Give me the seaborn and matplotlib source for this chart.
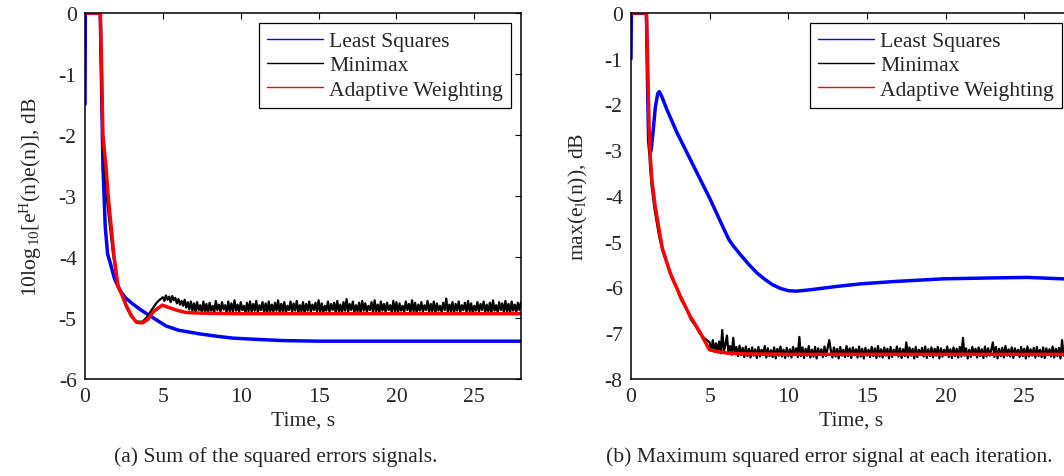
import numpy as np
import pandas as pd
import matplotlib
matplotlib.use("Agg")
import matplotlib.pyplot as plt
import seaborn as sns

# -----------------------------
# DATA
# -----------------------------
series_names = ["Least Squares", "Minimax", "Adaptive Weighting"]
series_colors = ["#0000ff", "#000000", "#ff0000"]

# (a) sum of squared errors
a_ls_t = [0, 0.02, 0.98, 1.05, 1.15, 1.3, 1.45, 1.6, 1.9, 2.3, 2.6, 3.07, 3.6, 4.15, 4.7,
          5.2, 6.0, 7.35, 8.5, 9.5, 11, 12.7, 15, 20, 28]
a_ls_v = [-1.5, 0, 0, -1.0, -2.5, -3.5, -3.95, -4.08, -4.36, -4.57, -4.67, -4.77, -4.87, -4.96, -5.05,
          -5.13, -5.2, -5.26, -5.3, -5.33, -5.35, -5.37, -5.38, -5.38, -5.38]

a_aw_t = [0, 0.98, 1.05, 1.15, 1.34, 1.49, 1.87, 2.13, 2.34, 2.66, 2.98, 3.3, 3.7, 4.05, 4.37, 4.96,
          5.3, 5.64, 6.0, 6.5, 7.35, 10, 28]
a_aw_v = [0, 0, -0.7, -2.0, -2.5, -3.0, -4.0, -4.49, -4.6, -4.8, -4.96, -5.07, -5.08, -5.02, -4.9, -4.79,
          -4.82, -4.85, -4.88, -4.91, -4.92, -4.93, -4.93]

a_mm_t = [0, 0.98, 1.02, 1.1, 1.2, 1.39, 1.6, 1.8, 2.1, 2.35, 2.65, 2.95, 3.3, 3.7, 4.0, 4.3, 4.6, 4.8]
a_mm_v = [0, 0, -0.7, -1.8, -2.4, -3.0, -3.5, -3.95, -4.45, -4.62, -4.82, -4.97, -5.06, -5.06, -4.98,
          -4.86, -4.75, -4.70]
# noisy steady part of Minimax, sampled every 0.1 s from t = 5.0
a_mm_noise_t0 = 5.0
a_mm_noise_dt = 0.1
a_mm_noise = [
    -4.66, -4.72, -4.63, -4.70, -4.65, -4.74, -4.64, -4.71, -4.67, -4.76,
    -4.69, -4.78, -4.72, -4.80, -4.70, -4.83, -4.74, -4.86, -4.73, -4.88,
    -4.76, -4.90, -4.74, -4.87, -4.79, -4.91, -4.73, -4.89, -4.77, -4.92,
    -4.75, -4.88, -4.80, -4.91, -4.72, -4.87, -4.78, -4.90, -4.74, -4.86,
    -4.79, -4.92, -4.73, -4.89, -4.76, -4.90, -4.71, -4.88, -4.78, -4.91,
    -4.74, -4.87, -4.80, -4.92, -4.75, -4.89, -4.73, -4.90, -4.77, -4.88,
    -4.72, -4.91, -4.79, -4.87, -4.74, -4.90, -4.76, -4.92, -4.73, -4.89,
    -4.78, -4.90, -4.75, -4.88, -4.71, -4.91, -4.77, -4.89, -4.74, -4.92,
    -4.80, -4.87, -4.73, -4.90, -4.76, -4.88, -4.72, -4.91, -4.79, -4.89,
    -4.74, -4.92, -4.77, -4.88, -4.73, -4.90, -4.78, -4.87, -4.75, -4.91,
    -4.71, -4.89, -4.76, -4.92, -4.80, -4.88, -4.73, -4.90, -4.77, -4.87,
    -4.75, -4.91, -4.72, -4.89, -4.78, -4.92, -4.74, -4.88, -4.69, -4.90,
    -4.77, -4.87, -4.73, -4.91, -4.79, -4.89, -4.75, -4.92, -4.72, -4.88,
    -4.76, -4.90, -4.80, -4.87, -4.74, -4.91, -4.71, -4.89, -4.78, -4.92,
    -4.73, -4.88, -4.77, -4.90, -4.75, -4.87, -4.79, -4.91, -4.72, -4.89,
    -4.74, -4.92, -4.76, -4.88, -4.80, -4.90, -4.73, -4.87, -4.77, -4.91,
    -4.71, -4.89, -4.75, -4.92, -4.78, -4.88, -4.74, -4.90, -4.79, -4.87,
    -4.72, -4.91, -4.77, -4.89, -4.73, -4.92, -4.76, -4.88, -4.80, -4.90,
    -4.75, -4.87, -4.68, -4.91, -4.78, -4.89, -4.74, -4.92, -4.77, -4.88,
    -4.73, -4.90, -4.79, -4.87, -4.75, -4.91, -4.72, -4.89, -4.76, -4.92,
    -4.80, -4.88, -4.74, -4.90, -4.77, -4.87, -4.73, -4.91, -4.78, -4.89,
    -4.75, -4.92, -4.71, -4.88, -4.79, -4.90, -4.74, -4.87, -4.76, -4.91,
    -4.72, -4.89, -4.77, -4.92, -4.73, -4.88, -4.78, -4.90, -4.75, -4.87,
    -4.74,
]

# (b) maximum squared error
b_ls_t = [0, 0.02, 0.98, 1.05, 1.12, 1.2, 1.28, 1.4, 1.55, 1.7, 1.8, 1.95, 2.27, 2.9, 3.97, 5.03,
          6.2, 6.5, 7.0, 7.5, 8.0, 8.5, 9.0, 9.5, 10.0, 10.5, 11.4, 13.0, 14.6, 16.7, 19.9, 23.1,
          25.2, 27.4, 28]
b_ls_v = [-1.0, 0, 0, -1.5, -2.8, -3.08, -3.0, -2.6, -2.05, -1.76, -1.72, -1.82, -2.1, -2.6, -3.34, -4.07,
          -4.94, -5.09, -5.3, -5.5, -5.68, -5.82, -5.94, -6.02, -6.07, -6.08, -6.05, -5.98, -5.92, -5.87,
          -5.81, -5.79, -5.78, -5.81, -5.82]

b_aw_t = [0, 0.98, 1.05, 1.15, 1.22, 1.32, 1.53, 1.84, 2.0, 2.48, 3.12, 3.75, 4.39, 4.98, 5.5, 6.08,
          7.1, 10, 28]
b_aw_v = [0, 0, -1.0, -2.5, -3.1, -3.63, -4.21, -4.85, -5.15, -5.67, -6.18, -6.62, -6.98, -7.36, -7.40,
          -7.43, -7.45, -7.46, -7.46]

b_mm_t = [0, 0.98, 1.04, 1.12, 1.2, 1.3, 1.5, 1.8, 2.0, 2.3, 2.6, 2.9, 3.2, 3.5, 3.8, 4.1, 4.4, 4.7]
b_mm_v = [0, 0, -1.2, -2.6, -3.3, -3.75, -4.3, -4.9, -5.2, -5.48, -5.8, -6.02, -6.28, -6.44, -6.7,
          -6.84, -7.02, -7.12]
b_mm_noise_t0 = 5.0
b_mm_noise_dt = 0.1
b_mm_noise = [
    -7.20, -7.38, -7.15, -7.40, -7.22, -7.42, -7.18, -7.44, -6.93, -7.40,
    -7.25, -7.05, -7.45, -7.28, -7.47, -7.10, -7.46, -7.30, -7.50, -7.27,
    -7.48, -7.32, -7.52, -7.29, -7.50, -7.34, -7.53, -7.31, -7.49, -7.35,
    -7.54, -7.30, -7.51, -7.36, -7.48, -7.28, -7.53, -7.33, -7.50, -7.37,
    -7.52, -7.31, -7.55, -7.34, -7.49, -7.29, -7.51, -7.36, -7.54, -7.32,
    -7.50, -7.35, -7.53, -7.30, -7.48, -7.33, -7.52, -7.08, -7.50, -7.31,
    -7.54, -7.34, -7.49, -7.28, -7.53, -7.36, -7.51, -7.30, -7.55, -7.33,
    -7.48, -7.35, -7.52, -7.29, -7.50, -7.32, -7.15, -7.37, -7.53, -7.31,
    -7.51, -7.34, -7.55, -7.30, -7.49, -7.36, -7.52, -7.28, -7.50, -7.33,
    -7.54, -7.31, -7.48, -7.35, -7.53, -7.29, -7.51, -7.34, -7.55, -7.32,
    -7.49, -7.36, -7.52, -7.30, -7.50, -7.33, -7.54, -7.28, -7.51, -7.35,
    -7.53, -7.31, -7.49, -7.34, -7.55, -7.30, -7.52, -7.36, -7.48, -7.29,
    -7.51, -7.33, -7.54, -7.35, -7.50, -7.20, -7.53, -7.31, -7.49, -7.34,
    -7.55, -7.30, -7.52, -7.36, -7.48, -7.32, -7.51, -7.29, -7.54, -7.35,
    -7.50, -7.31, -7.53, -7.34, -7.49, -7.30, -7.55, -7.33, -7.51, -7.36,
    -7.48, -7.29, -7.52, -7.35, -7.54, -7.31, -7.50, -7.34, -7.53, -7.30,
    -7.51, -7.10, -7.49, -7.33, -7.55, -7.36, -7.52, -7.30, -7.48, -7.34,
    -7.53, -7.31, -7.50, -7.35, -7.54, -7.29, -7.51, -7.33, -7.49, -7.36,
    -7.20, -7.52, -7.30, -7.55, -7.34, -7.50, -7.32, -7.53, -7.28, -7.49,
    -7.35, -7.51, -7.31, -7.54, -7.33, -7.48, -7.36, -7.52, -7.30, -7.50,
    -7.34, -7.55, -7.29, -7.51, -7.35, -7.49, -7.32, -7.53, -7.30, -7.50,
    -7.36, -7.52, -7.31, -7.54, -7.33, -7.48, -7.35, -7.51, -7.29, -7.53,
    -7.34, -7.50, -7.32, -7.55, -7.15, -7.49, -7.36, -7.52, -7.30, -7.51,
    -7.35,
]

xticks = [0, 5, 10, 15, 20, 25]
a_yticks = [0, -1, -2, -3, -4, -5, -6]
b_yticks = [0, -1, -2, -3, -4, -5, -6, -7, -8]

# -----------------------------
# STYLE
# -----------------------------
sns.set_theme(style="white")
plt.rcParams['font.family'] = ['Liberation Serif', 'DejaVu Serif']
plt.rcParams['mathtext.fontset'] = 'custom'
plt.rcParams['mathtext.rm'] = 'Liberation Serif'
plt.rcParams['mathtext.it'] = 'Liberation Serif:italic'
FS = 15.6
plt.rcParams['font.size'] = FS


def noisy_t(t0, dt, vals):
    return [round(t0 + dt * i, 3) for i in range(len(vals))]


def frame(t_list, v_list, name):
    return pd.DataFrame({"t": t_list, "v": v_list, "series": name})


fig = plt.figure(figsize=(10.64, 4.77), dpi=100)
# axes boxes in pixels: (a) 85..521, (b) 631..1071.5, both y 14..380
ax_a = fig.add_axes([85 / 1064, 1 - 380 / 477, 436 / 1064, 366 / 477])
ax_b = fig.add_axes([631 / 1064, 1 - 380 / 477, 440.5 / 1064, 366 / 477])

panels = [
    (ax_a, (a_ls_t, a_ls_v),
     (a_mm_t + noisy_t(a_mm_noise_t0, a_mm_noise_dt, a_mm_noise), a_mm_v + a_mm_noise),
     (a_aw_t, a_aw_v), (-6, 0), a_yticks,
     r"10log$_{\,10}$[e$^{\mathrm{H}}$(n)e(n)], dB", 436.0, -54),
    (ax_b, (b_ls_t, b_ls_v),
     (b_mm_t + noisy_t(b_mm_noise_t0, b_mm_noise_dt, b_mm_noise), b_mm_v + b_mm_noise),
     (b_aw_t, b_aw_v), (-8, 0), b_yticks,
     r"max(e$_{\mathrm{l}}$(n)), dB", 440.5, -53),
]

widths = [2.5, 1.6, 2.5]

for ax, ls, mm, aw, ylim, yticks, ylabel, wpx, lab_x in panels:
    for (tt, vv), name, col, lw in zip([ls, mm, aw], series_names, series_colors, widths):
        d = frame(tt, vv, name)
        sns.lineplot(data=d, x="t", y="v", ax=ax, color=col, lw=lw,
                     estimator=None, sort=False, label=name)
    ax.set_xlim(0, 28)
    ax.set_ylim(*ylim)
    ax.set_xticks(xticks)
    ax.set_yticks(yticks)
    ax.set_yticklabels([str(v) for v in yticks])
    ax.set_xlabel("Time, s", fontsize=FS, va="center")
    ax.set_ylabel(ylabel, fontsize=FS, va="center")
    ax.xaxis.set_label_coords(0.5, (380 - 421) / 366)
    ax.yaxis.set_label_coords(lab_x / wpx, 0.5)
    ax.tick_params(direction="in", length=4, width=0.8, top=True, right=True,
                   labelsize=FS, pad=6, color="black")
    for sp in ax.spines.values():
        sp.set_linewidth(1.1)
        sp.set_color("black")
    leg = ax.legend(loc="upper right", fontsize=FS, frameon=True, fancybox=False,
                    edgecolor="black", framealpha=1, handlelength=2.55,
                    handletextpad=0.3, labelspacing=0.18, borderpad=0.38,
                    borderaxespad=0)
    leg.get_frame().set_linewidth(0.9)
    for ln in leg.get_lines():
        ln.set_linewidth(1.0)

ax_a.get_legend().set_bbox_to_anchor(((511 - 85) / 436, (380 - 24) / 366), transform=ax_a.transAxes)
ax_b.get_legend().set_bbox_to_anchor(((1062 - 631) / 440.5, (380 - 24) / 366), transform=ax_b.transAxes)

fig.text(276 / 1064, 1 - 457 / 477, "(a) Sum of the squared errors signals.",
         ha="center", va="center", fontsize=FS)
fig.text(829 / 1064, 1 - 457 / 477, "(b) Maximum squared error signal at each iteration.",
         ha="center", va="center", fontsize=FS)

fig.savefig("out.png", dpi=100)
